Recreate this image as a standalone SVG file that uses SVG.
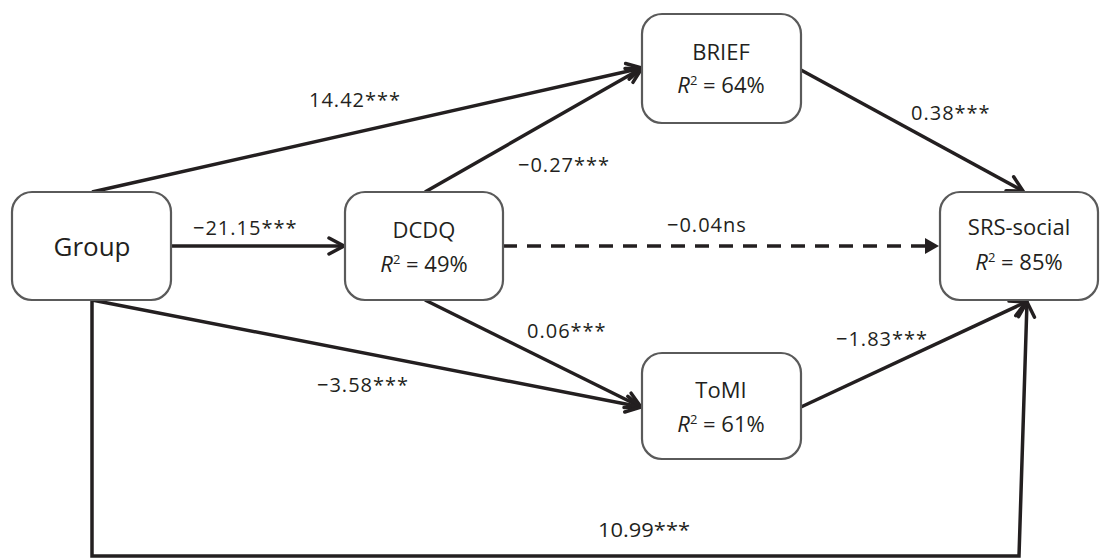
<svg xmlns="http://www.w3.org/2000/svg" width="1105" height="559" viewBox="0 0 1105 559">
<style>
.box{fill:#fff;stroke:#5a5a5a;stroke-width:2.2}
.nt{font-family:"Open Sans","Liberation Sans",sans-serif;font-size:22px;fill:#231f20;text-anchor:middle}
.lbl{font-family:"Open Sans","Liberation Sans",sans-serif;font-size:20px;letter-spacing:1px;fill:#231f20}
.ln{fill:none;stroke:#231f20;stroke-width:3.5}
</style>
<defs>
<marker id="open" markerUnits="userSpaceOnUse" viewBox="-20 -12 24 24" refX="0" refY="0" markerWidth="24" markerHeight="24" orient="auto">
<path d="M-15,-8 L0,0 L-15,8" fill="none" stroke="#231f20" stroke-width="3.5" stroke-linecap="round"/>
</marker>
<marker id="tri" markerUnits="userSpaceOnUse" viewBox="-16 -10 18 20" refX="0" refY="0" markerWidth="18" markerHeight="20" orient="auto">
<path d="M-14,-8 L0,0 L-14,8 Z" fill="#231f20"/>
</marker>
</defs>
<g id="connectors">
<line class="ln" x1="92" y1="192" x2="642" y2="68" marker-end="url(#open)"/>
<line class="ln" x1="425" y1="192" x2="642" y2="68" marker-end="url(#open)"/>
<line class="ln" x1="172" y1="246" x2="344" y2="246" marker-end="url(#open)"/>
<line class="ln" x1="503" y1="246" x2="925" y2="246" stroke-dasharray="14 10"/>
<line x1="925" y1="246" x2="939" y2="246" stroke="none" marker-end="url(#tri)"/>
<line class="ln" x1="425" y1="300" x2="641" y2="407" marker-end="url(#open)"/>
<line class="ln" x1="92" y1="300" x2="641" y2="407" marker-end="url(#open)"/>
<line class="ln" x1="801" y1="70" x2="1023" y2="191" marker-end="url(#open)"/>
<line class="ln" x1="801" y1="407" x2="1026" y2="302" marker-end="url(#open)"/>
<polyline class="ln" points="92,300 92,556 1019,556 1027,302" marker-end="url(#open)"/>
<text class="lbl" x="309" y="107">14.42***</text>
<text class="lbl" x="518" y="172">−0.27***</text>
<text class="lbl" x="193" y="235">−21.15***</text>
<text class="lbl" x="667" y="232">−0.04ns</text>
<text class="lbl" x="911" y="120">0.38***</text>
<text class="lbl" x="527" y="338">0.06***</text>
<text class="lbl" x="317" y="392">−3.58***</text>
<text class="lbl" x="836" y="346">−1.83***</text>
<text class="lbl" x="598" y="537" textLength="92" lengthAdjust="spacingAndGlyphs" style="letter-spacing:0">10.99***</text>
</g>
<g id="group">
<rect class="box" x="12" y="192" width="159" height="108" rx="20"/>
<text class="nt" x="92" y="256" style="font-size:26px">Group</text>
</g>
<g id="dcdq">
<rect class="box" x="345" y="192" width="158" height="108" rx="20"/>
<text class="nt" x="424" y="238">DCDQ</text>
<text class="nt" x="424" y="272"><tspan font-style="italic">R</tspan><tspan dy="-8" font-size="13">2</tspan><tspan dy="8"> = 49%</tspan></text>
</g>
<g id="brief">
<rect class="box" x="642" y="14" width="159" height="109" rx="20"/>
<text class="nt" x="721" y="60">BRIEF</text>
<text class="nt" x="721" y="93"><tspan font-style="italic">R</tspan><tspan dy="-8" font-size="13">2</tspan><tspan dy="8"> = 64%</tspan></text>
</g>
<g id="tomi">
<rect class="box" x="642" y="353" width="159" height="106" rx="20"/>
<text class="nt" x="721" y="398">ToMI</text>
<text class="nt" x="721" y="432"><tspan font-style="italic">R</tspan><tspan dy="-8" font-size="13">2</tspan><tspan dy="8"> = 61%</tspan></text>
</g>
<g id="srs">
<rect class="box" x="940" y="192" width="158" height="108" rx="20"/>
<text class="nt" x="1019" y="235">SRS-social</text>
<text class="nt" x="1019" y="270"><tspan font-style="italic">R</tspan><tspan dy="-8" font-size="13">2</tspan><tspan dy="8"> = 85%</tspan></text>
</g>
</svg>
